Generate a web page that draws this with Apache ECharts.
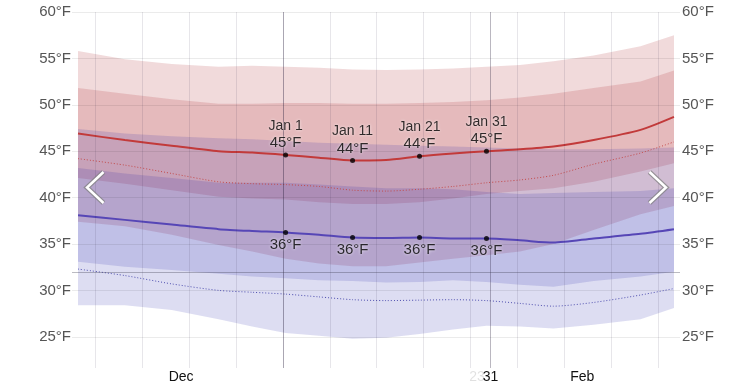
<!DOCTYPE html>
<html><head><meta charset="utf-8">
<script src="https://cdn.jsdelivr.net/npm/echarts@6/dist/echarts.min.js"></script>
<style>html,body{margin:0;padding:0;background:#fff}#c{width:753px;height:387px}</style>
</head><body><div id="c"></div>
<script>
// day index: 0 = Dec 1 (noon)
const days      = [0,7,14,21,26,31,36,41,46,51,56,61,66,71,77,84,89];
const highP90   = [55.8,54.9,54.4,54.1,54.2,54.1,54.0,53.8,53.75,53.8,53.9,54.1,54.3,54.7,55.3,56.3,57.5];
const highP75   = [51.8,51.2,50.6,50.1,50.1,50.2,50.2,50.1,50.1,50.2,50.3,50.5,50.8,51.2,51.8,52.5,53.7];
const highAvg   = [46.9,46.2,45.6,45.0,44.85,44.6,44.3,44.0,44.05,44.45,44.75,45.0,45.2,45.5,46.2,47.3,48.7];
const highP25   = [42.1,41.5,40.8,40.1,39.9,39.8,39.5,39.3,39.3,39.5,39.9,40.4,40.7,41.0,41.7,42.8,43.7];
const highP10   = [37.4,36.9,36.0,34.9,34.2,33.4,32.9,32.6,32.6,33.0,33.4,33.8,34.2,35.0,36.5,38.2,39.1];
const highFeels = [44.2,43.5,42.6,41.7,41.5,41.4,41.2,40.8,40.7,40.9,41.2,41.6,41.9,42.4,43.6,44.8,46.0];
const lowP90    = [47.4,46.9,46.6,46.4,46.3,46.1,45.9,45.8,45.7,45.6,45.5,45.4,45.3,45.2,45.2,45.3,45.4];
const lowP75    = [43.2,42.6,42.1,41.6,41.6,41.6,41.4,41.2,41.0,41.0,40.9,40.6,40.4,40.5,40.6,40.7,41.0];
const lowAvg    = [38.1,37.6,37.1,36.6,36.4,36.25,36.0,35.7,35.65,35.7,35.6,35.6,35.4,35.15,35.6,36.1,36.6];
const lowP25    = [33.1,32.55,32.2,31.8,31.5,31.3,31.1,31.0,30.85,30.9,31.1,30.9,30.6,30.4,31.0,31.5,32.0];
const lowP10    = [28.4,28.4,27.9,26.9,26.1,25.4,25.1,24.8,24.9,25.3,25.8,26.2,26.1,25.9,26.3,26.9,28.1];
const lowFeels  = [32.3,31.6,30.7,30.0,29.8,29.6,29.3,29.0,28.9,28.95,29.0,28.9,28.6,28.3,28.7,29.5,30.2];

const markedDays   = [31,41,51,61];
const markedLabels = ['Jan 1','Jan 11','Jan 21','Jan 31'];

const weekLineDays  = [2.6,9.6,16.6,23.6,30.6,37.6,44.6,51.6,58.6,65.6,72.6,79.6,86.6];
const monthLineDays = [30.6,61.6];
const xLabelDays  = [15.4,59.6,61.6,75.3];
const xLabelTexts = ['Dec','23','31','Feb'];
const freezing = 32;

const FONT = 'Liberation Sans, Arial, sans-serif';
const S = 0.25;
const pairs = a => days.map((d,i)=>[d,a[i]]);

function band(lo, hi, color){
  return {
    type:'custom', silent:true, z:2, clip:true,
    data: days.map((d,i)=>[d, lo[i], hi[i]]),
    encode:{x:0, y:[1,2]},
    renderItem:(params, api)=>{
      if (params.dataIndex !== 0) return null;
      const top = days.map((d,i)=>api.coord([d, hi[i]]));
      const bot = days.map((d,i)=>api.coord([d, lo[i]])).reverse();
      return {type:'polygon', shape:{points: top.concat(bot)}, style:{fill:color, stroke:null}};
    }
  };
}
const RED = 'rgba(168,18,28,0.155)';
const BLUE = 'rgba(30,30,170,0.15)';
const valAt = (arr,d) => arr[days.indexOf(d)];
const halo = {textShadowColor:'rgba(255,255,255,1)', textShadowBlur:3, textBorderWidth:0};

const series = [
  band(highP10, highP90, RED),
  band(highP25, highP75, RED),
  band(lowP10, lowP90, BLUE),
  band(lowP25, lowP75, BLUE),
  {type:'line', data:pairs(highFeels), symbol:'none', smooth:S, z:4,
   lineStyle:{color:'#c44a4a', width:1, type:[1,2]}},
  {type:'line', data:pairs(lowFeels), symbol:'none', smooth:S, z:4,
   lineStyle:{color:'#5050b0', width:1, type:[1,2]}},
  {type:'line', data:pairs(highAvg), symbol:'none', smooth:S, z:4,
   lineStyle:{color:'#c23a3a', width:2}},
  {type:'line', data:pairs(lowAvg), symbol:'none', smooth:S, z:4,
   lineStyle:{color:'#5646b6', width:2},
   markLine:{silent:true, symbol:'none', label:{show:false}, animation:false,
     data:[
       ...weekLineDays.map(d=>[{coord:[d,21.64],lineStyle:{color:'rgba(40,30,60,0.11)',width:1,type:'solid'}},{coord:[d,60]}]),
       ...monthLineDays.map(d=>[{coord:[d,21.64],lineStyle:{color:'rgba(40,30,60,0.32)',width:1,type:'solid'}},{coord:[d,60]}]),
       {yAxis:freezing, lineStyle:{color:'rgba(60,60,80,0.35)',width:1,type:'solid'}}
     ]}},
  {type:'scatter', z:6, symbolSize:5, itemStyle:{color:'#000'},
   data: markedDays.map((d,i)=>({value:[d,valAt(highAvg,d)], name:markedLabels[i]})),
   label:{show:true, position:'top', distance:1, align:'center',
     formatter:p=>'{d|'+p.name+'}\n{t|'+Math.round(p.value[1])+'°F}',
     rich:{d:Object.assign({fontSize:14,fontFamily:FONT,color:'#000',lineHeight:17}, halo),
           t:Object.assign({fontSize:15,fontFamily:FONT,color:'#000',lineHeight:17}, halo)}}},
  {type:'scatter', z:6, symbolSize:5, itemStyle:{color:'#000'},
   data: markedDays.map((d,i)=>({value:[d,valAt(lowAvg,d)], name:markedLabels[i]})),
   label:Object.assign({show:true, position:'bottom', distance:2,
     formatter:p=>Math.round(p.value[1])+'°F',
     fontSize:15, fontFamily:FONT, color:'#000'}, halo)}
];

const yLabel = {fontSize:15, fontFamily:FONT, color:'#555',
  formatter:v=> v===20 ? '' : v+'°F'};
const G = 'rgba(0,0,0,0.08)';

const option = {
  animation:false,
  backgroundColor:'#fff',
  grid:{left:72, right:73, top:12, bottom:3.8, containLabel:false},
  xAxis:{type:'value', min:-0.9, max:89.9, z:3,
    axisLine:{show:false}, axisTick:{show:false}, splitLine:{show:false},
    axisLabel:{show:true, margin:-13, customValues:xLabelDays,
      formatter:v=>{ const i=xLabelDays.findIndex(x=>Math.abs(x-v)<0.01); if(i<0) return '';
        return i===1 ? '{g|'+xLabelTexts[i]+'}' : '{b|'+xLabelTexts[i]+'}'; },
      rich:{b:{fontSize:14,fontFamily:FONT,color:'#111'}, g:{fontSize:14,fontFamily:FONT,color:'rgba(0,0,0,0.12)'}}}},
  yAxis:[
    {type:'value', min:20, max:60, interval:5, position:'left', z:3,
     axisLine:{show:false}, axisTick:{show:false},
     splitLine:{show:true, lineStyle:{color:['rgba(0,0,0,0)',G,G,G,G,G,G,G,G]}},
     axisLabel:Object.assign({margin:1}, yLabel)},
    {type:'value', min:20, max:60, interval:5, position:'right', z:3,
     axisLine:{show:false}, axisTick:{show:false}, splitLine:{show:false},
     axisLabel:Object.assign({margin:2}, yLabel)}
  ],
  series: series,
  graphic:[
    {type:'polyline', z:10, shape:{points:[[103.5,172],[87,187.5],[103.5,203]]}, style:{stroke:'rgba(130,130,130,0.75)', lineWidth:5, fill:null, lineJoin:'miter'}},
    {type:'polyline', z:11, shape:{points:[[103.5,172],[87,187.5],[103.5,203]]}, style:{stroke:'#fff', lineWidth:2.5, fill:null, lineJoin:'miter'}},
    {type:'polyline', z:10, shape:{points:[[649.5,172],[666,187.5],[649.5,203]]}, style:{stroke:'rgba(130,130,130,0.75)', lineWidth:5, fill:null, lineJoin:'miter'}},
    {type:'polyline', z:11, shape:{points:[[649.5,172],[666,187.5],[649.5,203]]}, style:{stroke:'#fff', lineWidth:2.5, fill:null, lineJoin:'miter'}}
  ]
};
const chart = echarts.init(document.getElementById('c'), null, {renderer:'canvas'});
chart.setOption(option);
</script></body></html>
